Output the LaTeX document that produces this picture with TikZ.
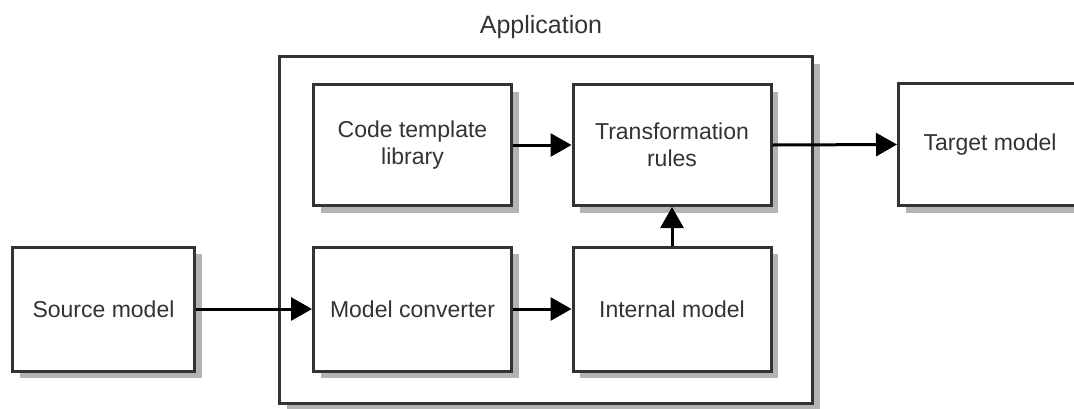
\documentclass[tikz,border=0pt]{standalone}
\usepackage{fontspec}
\setmainfont{Liberation Sans}
\usepackage{tikz}
\usetikzlibrary{shadows,arrows.meta}
\usepackage{xcolor}
\definecolor{edgegray}{HTML}{333333}
\definecolor{shadegray}{HTML}{B3B3B3}

\begin{document}
\begin{tikzpicture}[x=1pt,y=-1pt,
    block/.style={draw=edgegray,line width=3pt,fill=white,text=edgegray,align=center,
        font=\fontsize{23}{27}\selectfont,inner sep=0pt,
        drop shadow={shadow xshift=7pt,shadow yshift=-7pt,fill=shadegray,opacity=1}},
    flow/.style={line width=3pt,-{Triangle[length=21pt,width=23pt]}}]
    \clip (0,0) rectangle (1074,408);
    \node[block,minimum width=533pt,minimum height=347pt] (app) at (546,230) {};
    \node[text=edgegray,font=\fontsize{25}{30}\selectfont] (apptitle) at (541,27) {Application};
    \node[block,minimum width=198pt,minimum height=121pt] (ctl) at (412.5,145) {Code template\\library};
    \node[block,minimum width=198pt,minimum height=121pt] (tr) at (672,145) {Transformation\\rules};
    \node[block,minimum width=198pt,minimum height=124pt] (mc) at (412.5,309) {Model converter};
    \node[block,minimum width=198pt,minimum height=124pt] (im) at (672,309) {Internal model};
    \node[block,minimum width=182pt,minimum height=124pt] (src) at (103.5,309) {Source model};
    \node[block,minimum width=183pt,minimum height=122pt] (tgt) at (990,144.5) {Target model};
    \draw[flow] (ctl.east) -- (tr.west);
    \draw[flow] (src.east) -- (mc.west);
    \draw[flow] (mc.east) -- (im.west);
    \draw[flow] (im.north) -- (tr.south);
    \draw[flow] (tr.east) -- (tgt.west);
\end{tikzpicture}
\end{document}
